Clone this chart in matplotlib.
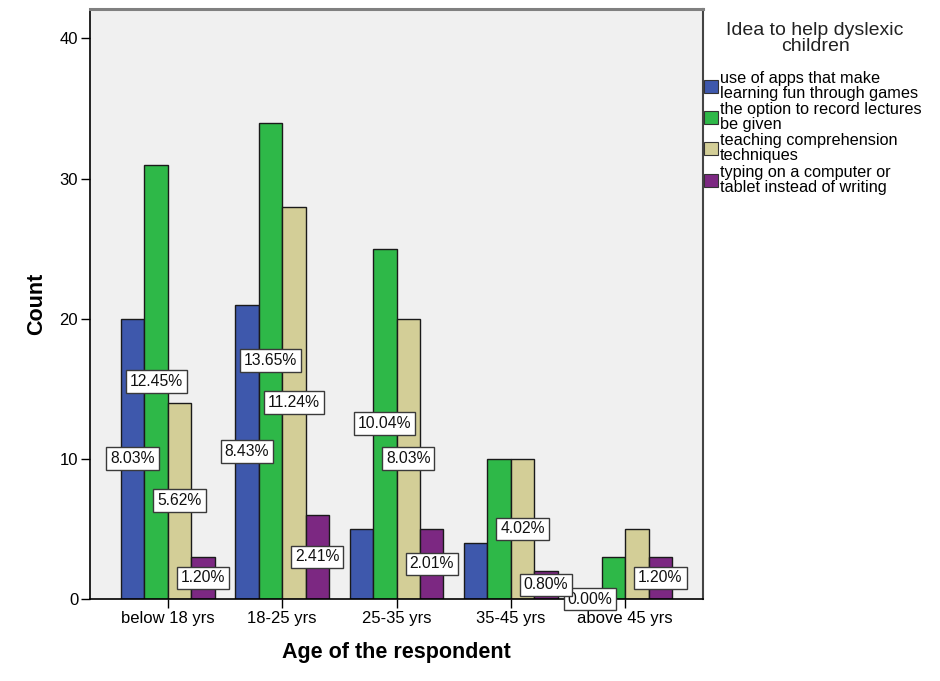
import matplotlib
matplotlib.use("Agg")
import matplotlib.pyplot as plt
from matplotlib.patches import Patch
import numpy as np

plt.rcParams['font.family'] = ['Liberation Sans', 'DejaVu Sans']

categories = ["below 18 yrs", "18-25 yrs", "25-35 yrs", "35-45 yrs", "above 45 yrs"]
series_names = [
    "use of apps that make\nlearning fun through games",
    "the option to record lectures\nbe given",
    "teaching comprehension\ntechniques",
    "typing on a computer or\ntablet instead of writing",
]
apps = [20, 21, 5, 4, 0]
record = [31, 34, 25, 10, 3]
comprehension = [14, 28, 20, 10, 5]
typing = [3, 6, 5, 2, 3]
values = [apps, record, comprehension, typing]
# which percentage labels are visible in the reference
shown_apps = [True, True, False, False, True]
shown_record = [True, True, True, False, False]
shown_comp = [True, True, True, True, False]
shown_typing = [True, True, True, True, True]
shown = [shown_apps, shown_record, shown_comp, shown_typing]
colors = ["#3E58AC", "#2EB848", "#D3CE97", "#7C2882"]
legend_title = "Idea to help dyslexic\nchildren"
yticks = [0, 10, 20, 30, 40]

total = sum(sum(s) for s in values)

fig = plt.figure(figsize=(9.4, 6.81), dpi=100)
ax = fig.add_axes([90/940, 1-599/681, (703-90)/940, (599-9)/681])
ax.set_facecolor("#F0F0F0")

x = np.arange(len(categories))
w = 0.205
for i, (vals, col) in enumerate(zip(values, colors)):
    pos = x + (i - 1.5) * w
    ax.bar(pos, vals, width=w, color=col, edgecolor="#1a1a1a", linewidth=1.0, zorder=2)

for i, vals in enumerate(values):
    pos = x + (i - 1.5) * w
    for j, v in enumerate(vals):
        if shown[i][j]:
            ax.text(pos[j], v / 2, f"{100*v/total:.2f}%", ha="center", va="center",
                    fontsize=11.3, color="#111111", zorder=5,
                    bbox=dict(boxstyle="square,pad=0.25", facecolor="white",
                              edgecolor="#3a3a3a", linewidth=1.0))

ax.set_xlim(-0.68, 4.68)
ax.set_ylim(0, 42.1)
ax.set_xticks(x)
ax.set_xticklabels(categories, fontsize=12)
ax.set_yticks(yticks)
ax.set_yticklabels([str(t) for t in yticks], fontsize=12)
ax.tick_params(axis="both", direction="out", length=6.5, width=1.0, pad=2, color="black")

ax.set_xlabel("Age of the respondent", fontsize=15.5, fontweight="bold", labelpad=12)
ax.set_ylabel("Count", fontsize=15.5, fontweight="bold", labelpad=9)

for side in ["left", "bottom"]:
    ax.spines[side].set_color("black")
    ax.spines[side].set_linewidth(1.2)
ax.spines["top"].set_color("#808080")
ax.spines["top"].set_linewidth(2.2)
ax.spines["right"].set_color("#444444")
ax.spines["right"].set_linewidth(1.5)

fig.text(815/940, 1 - 38.5/681, legend_title, ha="center", va="center",
         multialignment="center", fontsize=14, linespacing=0.9, color="#222222")

handles = [Patch(facecolor=c, edgecolor="#333333", linewidth=0.8) for c in colors]
leg = fig.legend(handles, series_names, loc="upper left", bbox_to_anchor=(0.749, 0.896),
                 frameon=False, fontsize=11.7, handlelength=0.85, handleheight=0.85,
                 handletextpad=0.12, labelspacing=0.08, borderpad=0, borderaxespad=0)
for t in leg.get_texts():
    t.set_linespacing(1.0)

fig.savefig("out.png", dpi=100, facecolor="white")
